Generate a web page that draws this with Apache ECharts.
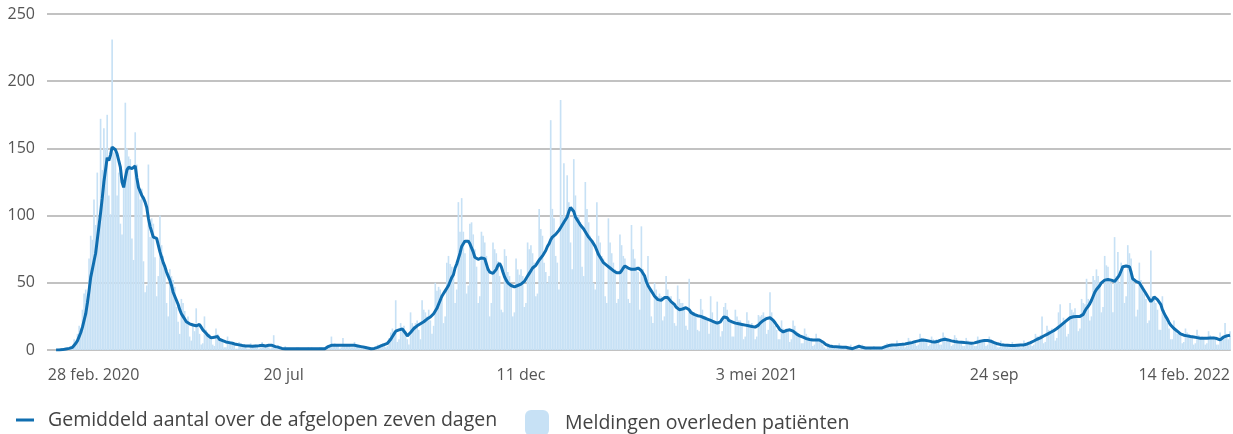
<!DOCTYPE html>
<html>
<head>
<meta charset="utf-8">
<script src="https://cdn.jsdelivr.net/npm/echarts@6/dist/echarts.min.js"></script>
<style>
  html, body { margin: 0; padding: 0; background: #ffffff; }
  #chart { width: 1233px; height: 434px; }
</style>
</head>
<body>
<div id="chart"></div>
<script>
// Daily data from 28 feb. 2020 (index 0) to 14 feb. 2022 (index 717)
const startDay = '2020-02-28';
const dayCount = 718;

// Tick positions (dates) and their labels
const tickDates = ['2020-02-28', '2020-07-20', '2020-12-11', '2021-05-03', '2021-09-24', '2022-02-14'];
const tickLabels = ['28 feb. 2020', '20 jul', '11 dec', '3 mei 2021', '24 sep', '14 feb. 2022'];

const yTicks = [0, 50, 100, 150, 200, 250];

// Meldingen overleden patiënten (daily), one row per week (Fri..Thu)
const meldingen = [
  0,0,0,0,0,0,0,
  1,0,0,1,1,1,1,
  3,2,8,4,12,18,16,
  30,42,45,38,68,85,82,
  112,93,132,93,172,134,165,
  150,175,115,101,231,147,148,
  115,132,94,86,122,184,150,
  144,142,83,67,162,138,123,
  112,120,66,43,48,138,84,
  98,94,69,40,55,100,78,
  70,62,35,25,60,55,52,
  47,32,21,12,38,35,29,
  21,25,10,7,20,14,31,
  18,12,4,5,25,15,10,
  12,8,4,3,16,12,8,
  8,6,2,2,10,7,5,
  6,4,1,1,6,5,3,
  4,3,1,1,5,3,3,
  4,3,1,2,6,4,3,
  3,2,1,2,11,2,1,
  2,1,0,0,3,1,1,
  1,1,0,0,2,2,1,
  1,1,0,0,2,1,2,
  1,0,1,0,2,2,1,
  2,1,1,3,10,4,5,
  4,3,1,2,9,4,4,
  4,3,2,2,6,4,3,
  3,2,1,1,3,2,2,
  1,1,0,1,4,3,4,
  5,4,2,3,9,13,16,
  14,37,6,8,20,16,18,
  10,8,4,28,20,18,20,
  22,15,8,37,30,28,25,
  30,22,12,18,50,44,47,
  45,38,20,25,65,70,64,
  62,55,35,45,110,88,113,
  88,72,42,48,94,95,86,
  75,62,35,40,88,85,80,
  70,58,25,35,80,75,72,
  66,55,30,28,75,70,58,
  55,48,25,28,68,60,56,
  60,55,32,35,80,75,78,
  72,65,40,42,105,90,85,
  65,58,50,55,171,105,98,
  70,65,45,186,100,139,95,
  130,110,80,60,142,115,100,
  100,95,62,55,125,105,95,
  85,80,50,45,110,85,80,
  70,68,40,35,98,80,72,
  65,60,35,38,86,78,70,
  68,62,38,35,93,75,68,
  62,58,30,92,60,55,48,
  70,45,25,20,50,45,40,
  42,40,22,25,55,45,40,
  40,35,20,18,48,38,35,
  35,32,18,15,53,30,28,
  28,26,15,14,38,30,25,
  25,22,12,40,28,22,20,
  36,20,10,14,32,35,30,
  24,20,10,10,30,25,22,
  22,18,8,10,28,22,18,
  20,16,8,10,26,25,26,
  28,25,12,15,43,28,22,
  18,15,8,8,22,16,14,
  16,14,6,8,22,18,14,
  12,10,5,5,16,12,10,
  9,8,3,4,12,9,8,
  6,4,2,1,5,4,3,
  3,2,1,1,5,3,2,
  2,2,0,0,4,2,1,
  2,2,1,1,4,3,2,
  2,1,0,1,3,2,2,
  2,1,1,1,4,5,4,
  4,3,2,2,7,5,4,
  5,4,2,3,9,7,6,
  7,6,3,4,12,9,9,
  8,6,3,4,10,8,7,
  8,7,4,4,13,10,9,
  8,6,3,4,11,9,7,
  6,5,3,3,9,7,6,
  6,5,3,3,10,8,8,
  8,7,3,4,10,8,6,
  5,4,2,2,7,5,4,
  4,3,2,2,6,4,4,
  4,3,2,2,7,5,5,
  6,5,3,4,12,10,10,
  11,25,5,6,18,15,14,
  16,14,7,9,28,34,20,
  24,22,10,12,35,30,28,
  31,25,14,16,38,35,34,
  53,38,22,25,55,52,60,
  55,50,28,32,70,63,62,
  52,50,28,84,55,73,50,
  65,62,35,40,78,72,68,
  55,50,25,30,65,52,48,
  42,38,20,22,74,40,38,
  35,30,15,15,40,30,25,
  20,16,8,8,22,15,12,
  13,11,5,6,16,13,12,
  11,10,4,5,15,11,9,
  10,9,4,5,14,11,9,
  10,9,4,4,13,10,8,
  20,12,8,14
];

// Gemiddeld aantal over de afgelopen zeven dagen (daily), rows of 10
const gemiddeld = [
  null,null,null,null,null,0,0,0,0,0.3,
  0.5,0.8,1,1.2,1.5,2,3,5,7,10,
  13,17,22,27,35,44,54,60,66,72,
  82,92,102,113,125,134,143,141,145,151,
  152,149,146,141,136,125,121,128,134,136,
  137,135,136,137,128,121,118,115,113,110,
  106,98,92,88,84,84,83,78,73,69,
  65,62,58,55,52,48,43,40,37,34,
  30,27,25,23,21,20,19.5,19,18.6,18.5,
  18,19,19,17,15,13.6,12.5,11,10,9,
  9,9.5,10,10,8,7.4,7,6.5,6,6,
  5.5,5,5,4.5,4.2,4,3.8,3.5,3.3,3.1,
  3,3,3,3,2.8,2.8,3,3,3.2,3.5,
  3.5,3.3,3,3,3.5,3.5,3.5,3,2.5,2,
  2,1.5,1.2,1,1,1,1,1,1,1,
  1,1,1,1,1,1,1,1,1,1,
  1,1,1,1,1,1,1,1,1,1.5,
  2.5,3,3.5,3.5,3.5,3.5,3.5,3.5,3.5,3.5,
  3.5,3.5,3.5,3.5,3.5,3.5,3.5,3.2,3,2.5,
  2.5,2.2,2,1.8,1.5,1.2,1,1,1.2,1.5,
  2,2.5,3,3.5,4,4.5,5,6,8,10,
  12,14,15,15,15.5,15.6,15,12.5,10.5,11.5,
  13,14.5,16,17,18,19,19.5,20.5,21,22,
  23,23.5,24.5,25.5,27,29,31,34,37,40,
  42,44,46,48,51,54,56,61,64,68,
  72,77,79,81,82,81,79,76,73,69,
  68,67.5,68,68.5,69,68,64,60,58,58,
  57,58,60,63,64.5,62,58,54.5,52,50,
  49,48,47,47,47.5,48,48.5,49,50,51,
  53,55,57,59,61,62,63,65,67,68.5,
  70,72,74,77,79,82,84,85,86,87,
  89,91,93,95,96,99,103,106,106,103,
  99,97,95,93,92,90,88,86,84,82.5,
  81,79,77,74,71,69,67,65,64,63,
  62.5,61,60,59,58,57.5,57,57.5,59,61,
  62.5,62,61,60,60,60,60,60.5,61,60.5,
  59,58,55,51,48,46,44,42,40,39,
  37.5,37,37,38,39,39.5,39,38,36,35,
  34,32,31,30,30,30.5,31,31.5,31,30,
  28,27,26.5,26,25.5,25,25,24.5,24,24,
  23,22.5,22,21.5,21,20.5,20,20,21,23,
  24.5,25,24,22,21,21,20.5,20,20,19.5,
  19.5,19,19,18.5,18,18,17.5,17.5,17,17,
  17.5,18.5,20,21,22,23,23.5,24,24,23,
  22,20.5,18.6,17,15,13.6,13.5,14,14.5,15,
  15,15,14,13,12,11,10.5,10,9.5,9,
  8.5,8,7.8,7.5,7.4,7.4,7.5,7.4,7.4,7,
  6,5,4,3,3,2.8,2.6,2.5,2.4,2.3,
  2.2,2.1,2,2,2,1.8,1.5,1.2,1,1.5,
  2,2.5,2.8,2.5,2,1.5,1.5,1.5,1.5,1.5,
  1.5,1.5,1.5,1.5,1.5,1.5,1.5,2,2.5,3,
  3.3,3.5,3.7,3.7,3.7,3.8,4,4,4.2,4.3,
  4.5,4.8,5,5.2,5.5,5.8,6.2,6.5,6.8,7,
  7.4,7.4,7.2,7,6.8,6.5,6.2,6,6,6.2,
  6.5,7,7.5,7.8,8,7.8,7.5,7,6.8,6.5,
  6.3,6.2,6,6,5.8,5.7,5.5,5.4,5.3,5.1,
  5,5.1,5.3,5.6,6,6.3,6.6,6.8,7,7,
  7,7,6.5,6,5.5,5,4.6,4.3,4,3.8,
  3.7,3.7,3.6,3.5,3.4,3.3,3.3,3.4,3.5,3.6,
  3.7,3.7,3.8,4,4.5,5,5.5,6,6.7,7.4,
  8,8.5,9,9.7,10.4,11,11.6,12.3,13,13.6,
  14.3,15,16,17,18,19,20,21,22,23,
  24,24.5,24.7,25,25,25,25,25,26.5,29,
  31,32.5,34.5,37,40,43,45,46,48,50,
  51,52,52,52.5,52.5,52,51.5,51,51,54,
  56,59,62,62.5,62.5,62,62,58,53,52,
  51,50.5,50,48,46,44.6,42,40,38,36,
  37.5,39.5,38.5,37.5,37,34,30,27.5,25,23,
  20.5,18.6,17.5,16,15,14,12.6,12,11.5,11,
  10.7,10.5,10.2,10,9.8,9.6,9.4,9.2,9,8.8,
  8.7,8.7,8.8,8.8,9,9,9,9,8.8,8.5,
  8,7.5,8.5,9.5,10,10.5,10.8,11
];

// Category list: one entry per day
const days = [];
const t0 = Date.parse(startDay + 'T00:00:00Z');
for (let i = 0; i < dayCount; i++) {
  days.push(new Date(t0 + i * 86400000).toISOString().slice(0, 10));
}

const FONT = '"Open Sans", "Noto Sans", sans-serif';
const lineName = 'Gemiddeld aantal over de afgelopen zeven dagen';
const barName = 'Meldingen overleden patiënten';

const chart = echarts.init(document.getElementById('chart'), null, { renderer: 'canvas' });
chart.setOption({
  animation: false,
  backgroundColor: '#ffffff',
  textStyle: { fontFamily: FONT },
  grid: { left: 47, right: 2, top: 14, bottom: 84, containLabel: false },
  legend: [
    {
      left: 11, top: 405, icon: 'rect', itemWidth: 18, itemHeight: 3,
      selectedMode: false, data: [lineName],
      textStyle: { fontFamily: FONT, fontSize: 19.5, color: '#444444', padding: [0, 0, 0, 9] }
    },
    {
      left: 520, top: 405, icon: 'roundRect', itemWidth: 24, itemHeight: 26,
      selectedMode: false, data: [barName],
      textStyle: { fontFamily: FONT, fontSize: 19.5, color: '#444444', padding: [0, 0, 0, 11] }
    }
  ],
  xAxis: {
    type: 'category',
    data: days,
    boundaryGap: true,
    axisLine: { show: false },
    axisTick: { show: false },
    splitLine: { show: false },
    axisLabel: {
      interval: (index, value) => tickDates.indexOf(value) >= 0,
      formatter: (value) => tickLabels[tickDates.indexOf(value)] || '',
      color: '#555555', fontFamily: FONT, fontSize: 16, margin: 17,
      alignMinLabel: 'left', alignMaxLabel: 'right'
    }
  },
  yAxis: {
    type: 'value',
    min: yTicks[0], max: yTicks[yTicks.length - 1], interval: 50,
    axisLine: { show: false },
    axisTick: { show: false },
    axisLabel: { color: '#555555', fontFamily: FONT, fontSize: 16, margin: 12 },
    splitLine: { lineStyle: { color: '#aeaeae', width: 1.5 } }
  },
  series: [
    {
      name: barName,
      type: 'bar',
      data: meldingen,
      barCategoryGap: '0%',
      itemStyle: { color: '#c7e1f5' },
      z: 2
    },
    {
      name: lineName,
      type: 'line',
      data: gemiddeld,
      showSymbol: false,
      symbol: 'none',
      connectNulls: false,
      lineStyle: { color: '#106eb0', width: 3 },
      itemStyle: { color: '#106eb0' },
      z: 3
    }
  ]
});
</script>
</body>
</html>
